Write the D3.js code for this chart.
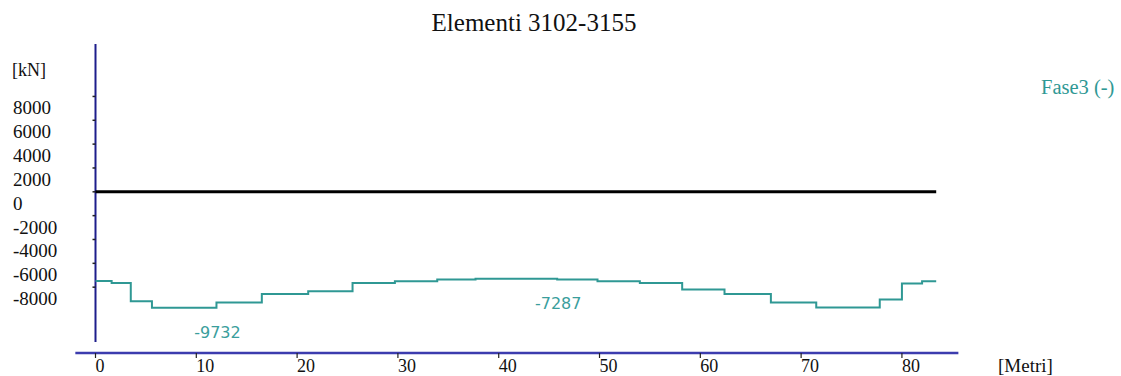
<!DOCTYPE html>
<html><head><meta charset="utf-8">
<script src="https://cdn.jsdelivr.net/npm/d3@7/dist/d3.min.js"></script>
<style>body{margin:0;background:#fff}svg{display:block}</style>
</head><body>
<svg id="c" width="1121" height="376"></svg>
<script>
const title = "Elementi 3102-3155";
const seriesName = "Fase3 (-)";
const yUnit = "[kN]";
const xUnit = "[Metri]";
const yTicks = [8000, 6000, 4000, 2000, 0, -2000, -4000, -6000, -8000];
const xTicks = [0, 10, 20, 30, 40, 50, 60, 70, 80];
// step boundaries (m) and value on each step (kN)
const stepStart = [0, 1.6, 3.5, 5.6, 12.0, 16.5, 21.1, 25.5, 29.7, 33.9, 37.7, 45.8, 49.8, 54.0, 58.2, 62.4, 67.0, 71.5, 77.8, 80.0, 82.0];
const stepValue = [-7480, -7650, -9180, -9732, -9290, -8570, -8345, -7650, -7500, -7360, -7287, -7360, -7500, -7650, -8200, -8570, -9290, -9700, -9040, -7700, -7500];
const xEnd = 83.4;
const annotations = [{x: 12.0, v: -9732, text: "-9732"}, {x: 45.8, v: -7287, text: "-7287"}];

const svg = d3.select("#c");
const x = d3.scaleLinear().domain([0, xEnd]).range([95.5, 936.2]);
const y = d3.scaleLinear().domain([-12600, 12400]).range([342, 44]);
const teal = "#2f9894";

// title
svg.append("text").attr("x", 534).attr("y", 31).attr("text-anchor", "middle")
  .attr("font-family", "Liberation Serif").attr("font-size", 25).attr("fill", "#111").text(title);

// y axis line
svg.append("line").attr("x1", x(0)).attr("x2", x(0)).attr("y1", y.range()[1]).attr("y2", y.range()[0])
  .attr("stroke", "#1e1e8c").attr("stroke-width", 2);
// y ticks
svg.append("g").selectAll("line").data(yTicks).join("line")
  .attr("x1", x(0) - 3).attr("x2", x(0)).attr("y1", d => y(d)).attr("y2", d => y(d))
  .attr("stroke", "#222").attr("stroke-width", 1.5);
// y labels (offset below ticks, as in original)
svg.append("g").selectAll("text").data(yTicks).join("text")
  .attr("x", 13).attr("y", d => y(d) + 18)
  .attr("font-family", "Liberation Serif").attr("font-size", 19).attr("fill", "#111")
  .text(d => d);
svg.append("text").attr("x", 12).attr("y", 76)
  .attr("font-family", "Liberation Serif").attr("font-size", 18).attr("fill", "#111").text(yUnit);

// x axis
const xAxisY = 353;
svg.append("line").attr("x1", x(-2)).attr("x2", x(85.6)).attr("y1", xAxisY).attr("y2", xAxisY)
  .attr("stroke", "#3c3cae").attr("stroke-width", 2.5);
svg.append("g").selectAll("line").data(xTicks).join("line")
  .attr("x1", d => x(d)).attr("x2", d => x(d)).attr("y1", xAxisY).attr("y2", xAxisY + 5)
  .attr("stroke", "#222").attr("stroke-width", 1.2);
svg.append("g").selectAll("text").data(xTicks).join("text")
  .attr("x", d => x(d)).attr("y", 372)
  .attr("font-family", "Liberation Serif").attr("font-size", 18).attr("fill", "#111")
  .text(d => d);
svg.append("text").attr("x", 998).attr("y", 372)
  .attr("font-family", "Liberation Serif").attr("font-size", 19).attr("fill", "#111").text(xUnit);

// zero line
svg.append("line").attr("x1", x(0)).attr("x2", x(xEnd)).attr("y1", y(0)).attr("y2", y(0))
  .attr("stroke", "#000").attr("stroke-width", 3);

// step series
const pts = stepStart.map((s, i) => [s, stepValue[i]]);
pts.push([xEnd, stepValue[stepValue.length - 1]]);
const line = d3.line().x(d => x(d[0])).y(d => y(d[1])).curve(d3.curveStepAfter);
svg.append("path").attr("d", line(pts)).attr("fill", "none").attr("stroke", teal).attr("stroke-width", 2);

// annotations
svg.append("g").selectAll("text").data(annotations).join("text")
  .attr("x", d => x(d.x) + 1).attr("y", d => y(d.v) + 30).attr("text-anchor", "middle")
  .attr("font-family", "DejaVu Sans").attr("font-size", 16).attr("fill", "#3a9e9c")
  .text(d => d.text);

// legend
svg.append("text").attr("x", 1041).attr("y", 94)
  .attr("font-family", "Liberation Serif").attr("font-size", 20.5).attr("fill", teal).text(seriesName);
</script>
</body></html>
